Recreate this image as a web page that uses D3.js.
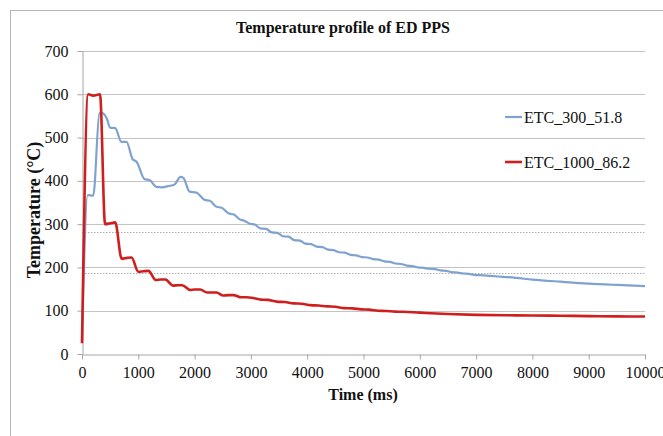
<!DOCTYPE html>
<html><head><meta charset="utf-8">
<script src="https://cdn.jsdelivr.net/npm/d3@7"></script>
<style>body{margin:0;background:#fff}svg{display:block}</style>
</head><body>
<svg id="chart" width="663" height="436"></svg>
<script>
const title = "Temperature profile of ED PPS";
const xLabel = "Time (ms)";
const yLabel = "Temperature (°C)";
const xTicks = [0,1000,2000,3000,4000,5000,6000,7000,8000,9000,10000];
const yTicks = [0,100,200,300,400,500,600,700];
const refLines = [281, 187];
const seriesNames = ["ETC_300_51.8", "ETC_1000_86.2"];

const etc300 = [
  [0,30],[100,367],[200,366],[310,556],[350,557],[440,544],[500,523],[590,522],
  [700,490],[790,490],[900,450],[970,444],[1110,404],[1200,402],[1320,386],[1420,385],
  [1530,388],[1640,391],[1750,409],[1800,407],[1910,375],[2030,373],[2180,356],[2270,354],
  [2390,340],[2480,338],[2600,325],[2700,322],[2800,311],[2880,308],[2980,301],[3070,299],
  [3170,290],[3270,289],[3370,281],[3470,280],[3570,272],[3670,271],[3770,263],[3870,262],
  [3970,255],[4070,254],[4170,248],[4270,247],[4370,241],[4470,240],[4570,235],[4670,234],
  [4770,229],[4870,228],[4970,224],[5070,223],[5170,219],[5270,218],[5370,214],[5470,213],
  [5570,209],[5670,208],[5770,204],[5870,203],[5970,200],[6070,199],[6170,197],[6270,196],
  [6370,193],[6470,192],[6570,189],[6670,188],[6770,186],[6870,185],[6970,183],[7070,182],
  [7400,179],[7700,176],[8000,172],[8500,167],[9000,162.5],[9500,159.5],[10000,157]
];
const etc1000 = [
  [0,25],[110,600],[200,597],[320,600],[410,300],[500,302],[590,304],[705,220],[800,222],
  [880,223],[1000,190],[1090,191],[1180,192],[1310,171],[1400,172],[1480,172],[1620,158],
  [1700,159],[1780,159],[1920,148],[2000,149],[2100,149],[2220,142],[2300,142],[2390,142],
  [2510,135],[2600,136],[2690,136],[2830,131],[2920,131],[3010,130],[3160,126],[3300,125],
  [3460,121],[3600,120],[3760,117],[3900,116],[4060,113],[4200,112],[4360,110],[4500,109],
  [4660,106],[4800,105.5],[4960,103],[5100,102.5],[5260,100],[5400,99.5],[5560,98],[5700,97.5],
  [6000,95.5],[6500,92.5],[7000,90.5],[7500,89.5],[8000,89],[8500,88.5],[9000,87.5],
  [9500,87],[10000,86.5]
];

const svg = d3.select("#chart");
const font = "'Liberation Serif','Times New Roman',serif";
const m = {left:82, right:645, top:51, bottom:354};
const x = d3.scaleLinear().domain([0,10000]).range([m.left, m.right]);
const y = d3.scaleLinear().domain([0,700]).range([m.bottom, m.top]);

// outer frame
svg.append("rect").attr("x",10.5).attr("y",10.5).attr("width",700).attr("height",500)
  .attr("fill","none").attr("stroke","#b5b5b5").attr("stroke-width",1);

// gridlines
svg.append("g").selectAll("line").data(yTicks.filter(d=>d>0)).join("line")
  .attr("x1",m.left).attr("x2",m.right)
  .attr("y1",d=>Math.round(y(d))+0.5).attr("y2",d=>Math.round(y(d))+0.5)
  .attr("stroke","#c4c4c4").attr("stroke-width",1);

// dotted reference lines
svg.append("g").selectAll("line").data(refLines).join("line")
  .attr("x1",m.left).attr("x2",m.right)
  .attr("y1",d=>Math.round(y(d))+0.5).attr("y2",d=>Math.round(y(d))+0.5)
  .attr("stroke","#9a9a9a").attr("stroke-width",0.8).attr("stroke-dasharray","1.5,1.5");

// axes
const xAxis = svg.append("g").attr("transform",`translate(0,${Math.round(y(0))+0.5})`)
  .call(d3.axisBottom(x).tickValues(xTicks).tickFormat(d3.format("d")).tickSizeInner(5).tickSizeOuter(0).tickPadding(7));
const yAxis = svg.append("g").attr("transform",`translate(${m.left+0.5},0)`)
  .call(d3.axisLeft(y).tickValues(yTicks).tickSizeInner(5).tickSizeOuter(0).tickPadding(9));
[xAxis,yAxis].forEach(g=>{
  g.select(".domain").attr("stroke","#a6a6a6");
  g.selectAll(".tick line").attr("stroke","#a6a6a6");
  g.selectAll(".tick text").attr("font-family",font).attr("font-size",16).attr("fill","#111");
});

// lines
const line = d3.line().x(d=>x(d[0])).y(d=>y(d[1])).curve(d3.curveMonotoneX);
svg.append("path").datum(etc300).attr("d",line).attr("fill","none")
  .attr("stroke","#7fa2cf").attr("stroke-width",2.2).attr("stroke-linejoin","round");
svg.append("path").datum(etc1000).attr("d",line).attr("fill","none")
  .attr("stroke","#d01e1e").attr("stroke-width",2.6).attr("stroke-linejoin","round");

// title
svg.append("text").attr("x",343).attr("y",33).attr("text-anchor","middle")
  .attr("font-family",font).attr("font-weight","bold").attr("font-size",16).attr("fill","#111").text(title);
// axis titles
svg.append("text").attr("x",363).attr("y",400).attr("text-anchor","middle")
  .attr("font-family",font).attr("font-weight","bold").attr("font-size",16).attr("fill","#111").text(xLabel);
svg.append("text").attr("transform","translate(40,210) rotate(-90)").attr("text-anchor","middle")
  .attr("font-family",font).attr("font-weight","bold").attr("font-size",18).attr("fill","#111").text(yLabel);

// legend
const legColors = ["#7fa2cf","#d01e1e"];
const legY = [117,162];
seriesNames.forEach((n,i)=>{
  svg.append("line").attr("x1",505).attr("x2",522).attr("y1",legY[i]).attr("y2",legY[i])
    .attr("stroke",legColors[i]).attr("stroke-width",i?2.6:2.2);
  svg.append("text").attr("x",524).attr("y",legY[i]+5.5).attr("font-family",font)
    .attr("font-size",16).attr("fill","#111").text(n);
});
</script>
</body></html>
